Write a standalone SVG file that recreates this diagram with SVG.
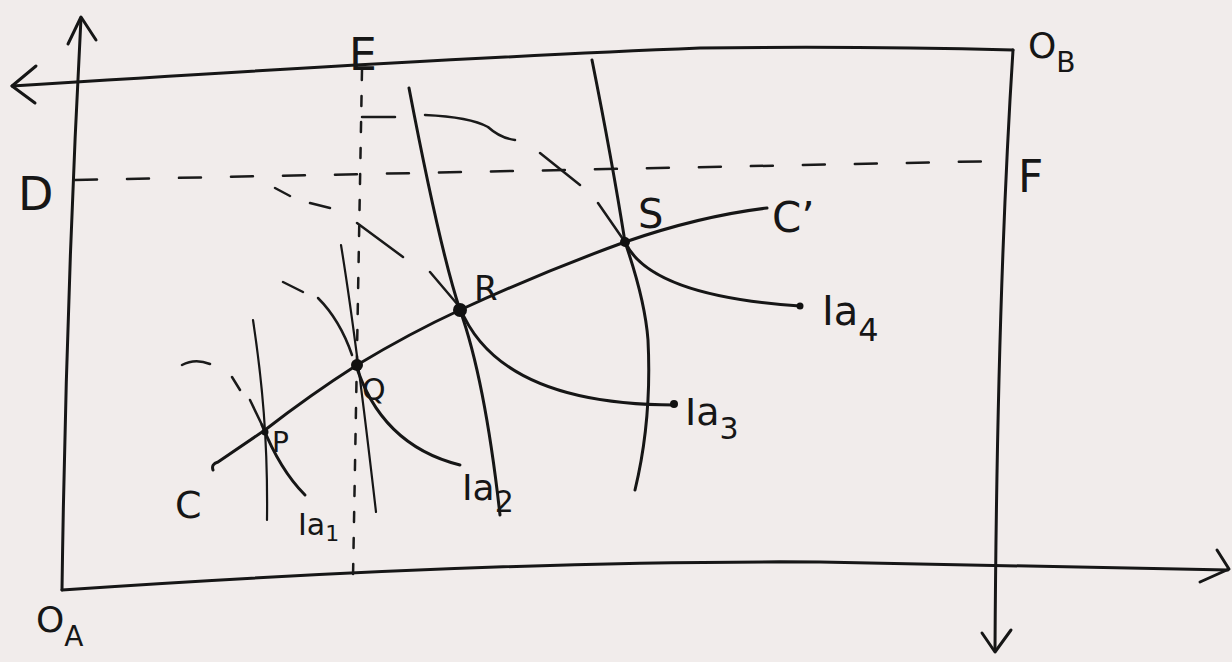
<svg xmlns="http://www.w3.org/2000/svg" width="1232" height="662" viewBox="0 0 1232 662">
<style>
.ln{fill:none;stroke:#161616;stroke-width:3;stroke-linecap:round;stroke-linejoin:round}
.thin{fill:none;stroke:#161616;stroke-width:2.2;stroke-linecap:round}
.dash{fill:none;stroke:#1a1a1a;stroke-width:2.5;stroke-linecap:round}
.lbl{font-family:"DejaVu Sans","Liberation Sans",sans-serif;fill:#161616}
.dot{fill:#111}
</style>
<rect width="1232" height="662" fill="#f1eceb"/>
<g id="box">
  <path class="ln" d="M62,590 Q66,300 81,18"/>
  <path class="ln" d="M68,44 L81,17 L96,40"/>
  <path class="ln" d="M62,590 Q500,560 820,562 Q1000,566 1228,570"/>
  <path class="ln" d="M1200,582 L1229,569 L1217,550"/>
  <path class="ln" d="M12,86 Q450,58 700,48 Q860,46 1013,50"/>
  <path class="ln" d="M36,66 L12,86 L35,103"/>
  <path class="ln" d="M1013,50 Q997,300 995,650"/>
  <path class="ln" d="M982,633 L995,652 L1011,630"/>
</g>
<g id="guides">
  <path class="dash" d="M75,180 L1000,161" stroke-dasharray="22 30"/>
  <path class="dash" d="M362,70 L353,578" stroke-dasharray="10 16" stroke-width="2"/>
  <path class="dash" d="M362,117 L395,117 M425,115 Q470,117 488,127 Q500,138 515,140 M540,153 L580,185 M598,203 L625,242"/>
  <path class="dash" d="M275,188 L290,196 M310,203 L330,208 M357,223 L403,257 M430,272 L458,305"/>
  <path class="dash" d="M283,282 L303,292 M318,298 Q340,320 352,355"/>
  <path class="dash" d="M182,365 Q195,358 210,364 M232,377 L240,390 M250,400 L262,425"/>
</g>
<g id="ib-curves">
  <path class="thin" d="M253,320 C262,380 268,440 267,520"/>
  <path class="thin" d="M341,245 C350,300 362,390 376,512"/>
  <path class="ln" d="M409,88 Q440,250 460,310 Q485,380 500,515"/>
  <path class="ln" d="M592,60 Q612,160 625,242 Q645,300 648,340 Q652,420 635,490"/>
</g>
<g id="ia-curves">
  <path class="ln" d="M262,425 Q280,470 305,495"/>
  <path class="ln" d="M355,362 Q380,445 460,465"/>
  <path class="ln" d="M460,308 Q500,405 675,405"/>
  <path class="ln" d="M625,242 Q650,296 800,306"/>
</g>
<g id="contract-curve">
  <path class="ln" d="M213,470 Q211,464 218,462 L265,430 Q310,395 357,365 Q410,333 460,310 Q540,273 625,242 Q700,216 767,208"/>
</g>
<g id="points">
  <circle class="dot" cx="265" cy="432" r="3.5"/>
  <circle class="dot" cx="357" cy="365" r="6"/>
  <circle class="dot" cx="460" cy="310" r="7"/>
  <circle class="dot" cx="625" cy="242" r="5"/>
  <circle class="dot" cx="674" cy="404" r="4"/>
  <circle class="dot" cx="800" cy="306" r="3.5"/>
</g>
<g id="labels" class="lbl">
  <text x="18" y="210" font-size="46">D</text>
  <text x="349" y="70" font-size="44">E</text>
  <text x="1018" y="192" font-size="44">F</text>
  <text x="1028" y="58" font-size="36">O<tspan font-size="28" dy="14">B</tspan></text>
  <text x="36" y="632" font-size="36">O<tspan font-size="28" dy="14">A</tspan></text>
  <text x="175" y="518" font-size="38">C</text>
  <text x="272" y="452" font-size="28">P</text>
  <text x="362" y="400" font-size="30">Q</text>
  <text x="474" y="300" font-size="34">R</text>
  <text x="638" y="228" font-size="40">S</text>
  <text x="772" y="232" font-size="42">C’</text>
  <text x="298" y="535" font-size="30">Ia<tspan font-size="22" dy="6">1</tspan></text>
  <text x="462" y="500" font-size="36">Ia<tspan font-size="30" dy="12">2</tspan></text>
  <text x="685" y="425" font-size="38">Ia<tspan font-size="30" dy="14">3</tspan></text>
  <text x="822" y="325" font-size="40">Ia<tspan font-size="32" dy="16">4</tspan></text>
</g>
</svg>
